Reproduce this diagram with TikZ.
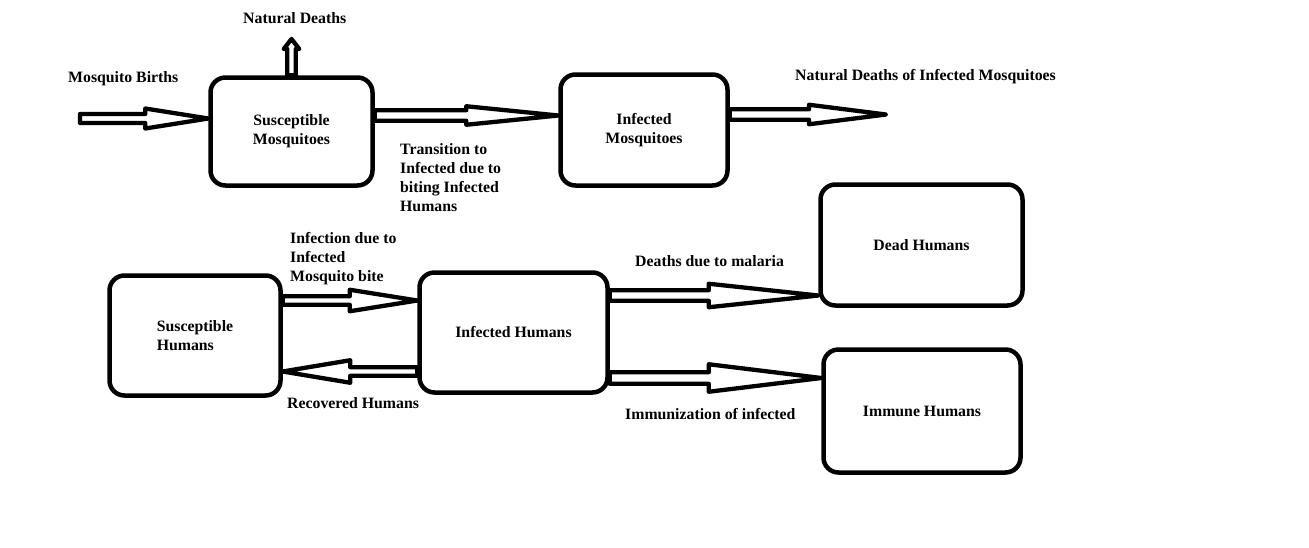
\documentclass[tikz,border=0pt]{standalone}
\usepackage{fontspec}
\setmainfont{Liberation Serif}
\usetikzlibrary{calc}
\newcommand\lblfont{\bfseries\fontsize{15.8}{19}\selectfont}
\tikzset{
  box/.style={draw, line width=4.5pt, rounded corners=15pt, inner sep=0pt, align=center, font=\lblfont},
  lbl/.style={inner sep=0pt, align=left, font=\lblfont},
  barr/.style={line width=4.3pt, line join=round},
}
% horizontal block arrow: start, target, signed head length, shaft half height, head half height
\newcommand\hblockarrow[5]{%
  \draw[barr] let \p1=(#1), \p2=(#2) in
    ({\x1},{\y1+#4}) -- ({\x2-(#3)},{\y1+#4}) -- ({\x2-(#3)},{\y1+#5}) -- ({\x2},{\y1}) --
    ({\x2-(#3)},{\y1-#5}) -- ({\x2-(#3)},{\y1-#4}) -- ({\x1},{\y1-#4}) -- cycle;}
% vertical block arrow
\newcommand\vblockarrow[5]{%
  \draw[barr] let \p1=(#1), \p2=(#2) in
    ({\x1+#4},{\y1}) -- ({\x1+#4},{\y2-(#3)}) -- ({\x1+#5},{\y2-(#3)}) -- ({\x1},{\y2}) --
    ({\x1-#5},{\y2-(#3)}) -- ({\x1-#4},{\y2-(#3)}) -- ({\x1-#4},{\y1}) -- cycle;}
\begin{document}
\begin{tikzpicture}[x=1pt,y=-1pt]
\useasboundingbox (0,0) rectangle (1309,547);
% boxes
\node[box, minimum width=162pt, minimum height=108pt] (sm) at (291.5,131.5) {Susceptible\\Mosquitoes};
\node[box, minimum width=167pt, minimum height=111pt] (im) at (644,130) {Infected\\Mosquitoes};
\node[box, minimum width=171pt, minimum height=120pt, align=left] (sh) at (195,335.5) {Susceptible\\Humans};
\node[box, minimum width=188pt, minimum height=120pt] (ih) at (513.5,332.5) {Infected Humans};
\node[box, minimum width=202pt, minimum height=121pt] (dh) at (921.5,245) {Dead Humans};
\node[box, minimum width=197pt, minimum height=123pt] (imh) at (922,411) {Immune Humans};
% free ends
\coordinate (mbstart) at (80,118.5);
\coordinate (imtip) at (886,114.5);
\coordinate (ndtip) at (291.5,39);
% block arrows
\hblockarrow{mbstart}{sm.west}{63pt}{4.5pt}{10pt}
\vblockarrow{sm.north}{ndtip}{10pt}{4.25pt}{7.75pt}
\hblockarrow{[yshift=16pt]sm.east}{im.west}{92pt}{5.25pt}{9.25pt}
\hblockarrow{[yshift=15.5pt]im.east}{imtip}{77pt}{5.25pt}{9.75pt}
\hblockarrow{[yshift=35pt]sh.east}{ih.west}{67.5pt}{4.25pt}{10.75pt}
\hblockarrow{[yshift=-39pt]ih.west}{sh.east}{-67.5pt}{4.25pt}{11.25pt}
\hblockarrow{[yshift=37pt]ih.east}{dh.west}{109.5pt}{5.25pt}{11.75pt}
\hblockarrow{[yshift=-45.5pt]ih.east}{imh.west}{112.5pt}{5.75pt}{13.75pt}
% labels
\node[lbl, anchor=west] (t1) at (243,18) {Natural Deaths};
\node[lbl, anchor=west] (t2) at (68,79) {Mosquito Births};
\node[lbl, anchor=west] (t3) at (795,77) {Natural Deaths of Infected Mosquitoes};
\node[lbl, anchor=west] (t4) at (400,177.75) {Transition to\\Infected due to\\biting Infected\\Humans};
\node[lbl, anchor=west] (t5) at (290,259) {Infection due to\\Infected\\Mosquito bite};
\node[lbl, anchor=west] (t6) at (287,403) {Recovered Humans};
\node[lbl, anchor=west] (t7) at (635,261) {Deaths due to malaria};
\node[lbl, anchor=west] (t8) at (625,414) {Immunization of infected};
\end{tikzpicture}
\end{document}
